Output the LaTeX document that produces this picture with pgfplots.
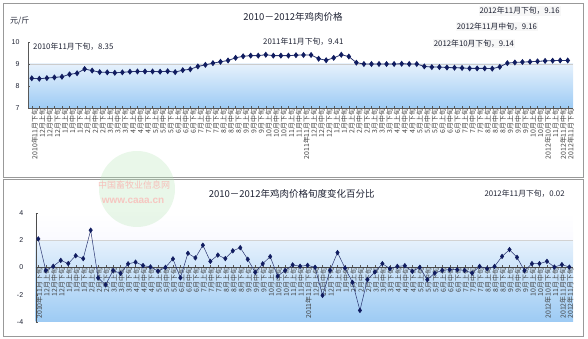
\documentclass[border=0pt]{standalone}
\usepackage{fontspec}
\setmainfont{Liberation Sans}
\newfontfamily\cjk{Noto Sans CJK SC}
\usepackage{pgfplots}
\pgfplotsset{compat=1.18}
\definecolor{navy}{HTML}{101C60}
\definecolor{lnb}{HTML}{2A3570}
\definecolor{txt}{HTML}{1E2233}
\definecolor{bluelo}{HTML}{9DCBF4}
\definecolor{bluehi}{HTML}{E6F1FC}
\pgfplotsset{
  mylabels/.style={xticklabels={2010年11月下旬,12月上旬,12月中旬,12月下旬,1月上旬,1月中旬,1月下旬,2月上旬,2月中旬,2月下旬,3月上旬,3月中旬,3月下旬,4月上旬,4月中旬,4月下旬,5月上旬,5月中旬,5月下旬,6月上旬,6月中旬,6月下旬,7月上旬,7月中旬,7月下旬,8月上旬,8月中旬,8月下旬,9月上旬,9月中旬,9月下旬,10月上旬,10月中旬,10月下旬,11月上旬,11月中旬,2011年11月下旬,12月上旬,12月中旬,12月下旬,1月上旬,1月中旬,2月上旬,2月中旬,2月下旬,3月上旬,3月中旬,3月下旬,4月上旬,4月中旬,4月下旬,5月上旬,5月中旬,5月下旬,6月上旬,6月中旬,6月下旬,7月上旬,7月中旬,7月下旬,8月上旬,8月中旬,8月下旬,9月上旬,9月中旬,9月下旬,10月上旬,10月中旬,2012年10月下旬,11月上旬,2012年11月中旬,2012年11月下旬}},
}
\begin{document}
\begin{tikzpicture}
\begin{scope}[x=1pt,y=1pt]
\useasboundingbox (0,0) rectangle (588,339);
% frames
\draw[gray!80, line width=0.8pt] (3.3,162) rectangle (583.5,336);
\draw[gray!80, line width=0.8pt] (3.3,3) rectangle (583.5,160);
\end{scope}

% ---------------- top chart ----------------
\begin{axis}[at={(28pt,231pt)}, anchor=south west, scale only axis,
  width=545pt, height=66pt, set layers=standard,
  xmin=0.5, xmax=72.7, ymin=7, ymax=10,
  axis lines=left, axis line style={-, gray!70!black},
  ytick={7,8,9,10}, xtick={1,...,72}, mylabels,
  tick align=inside, major tick length=2pt, tick style={gray!70!black},
  /pgf/number format/assume math mode=true,
  yticklabel style={font=\fontsize{7}{8}\selectfont, xshift=-5pt, text=txt},
  xticklabel style={rotate=90, anchor=east, inner sep=0.5pt, yshift=-3pt, font=\cjk\fontsize{6.9}{7}\selectfont, text=black!75},
  clip=false]
\begin{pgfonlayer}{axis background}
\fill[bottom color=bluelo, top color=bluehi] (axis cs:0.5,7) rectangle (axis cs:72.7,9);
\draw[gray!40] (axis cs:0.5,9) -- (axis cs:72.7,9);
\end{pgfonlayer}
\addplot[color=lnb, line width=0.8pt, mark=diamond*, mark size=2.4pt, mark options={fill=navy, draw=navy}] coordinates {
(1,8.35)(2,8.33)(3,8.36)(4,8.39)(5,8.42)(6,8.53)(7,8.58)(8,8.77)(9,8.70)(10,8.63)
(11,8.62)(12,8.60)(13,8.62)(14,8.65)(15,8.66)(16,8.66)(17,8.66)(18,8.65)(19,8.67)(20,8.63)
(21,8.72)(22,8.76)(23,8.89)(24,8.96)(25,9.04)(26,9.10)(27,9.16)(28,9.28)(29,9.35)(30,9.38)
(31,9.38)(32,9.42)(33,9.38)(34,9.38)(35,9.38)(36,9.40)(37,9.41)(38,9.41)(39,9.24)(40,9.17)
(41,9.28)(42,9.42)(43,9.34)(44,9.06)(45,9.00)(46,9.00)(47,9.00)(48,9.00)(49,9.00)(50,9.01)
(51,9.00)(52,9.00)(53,8.89)(54,8.86)(55,8.86)(56,8.84)(57,8.83)(58,8.82)(59,8.80)(60,8.80)
(61,8.80)(62,8.79)(63,8.87)(64,9.04)(65,9.07)(66,9.09)(67,9.10)(68,9.12)(69,9.14)(70,9.15)
(71,9.16)(72,9.16)};
\end{axis}

% ---------------- bottom chart ----------------
\begin{axis}[at={(35.7pt,17pt)}, anchor=south west, scale only axis,
  width=537.4pt, height=109.3pt, set layers=standard,
  xmin=0.65, xmax=72.5, ymin=-4, ymax=4,
  axis x line=middle, axis y line=left, axis line style={-, gray!60!black},
  ytick={-4,-2,0,2,4}, xtick={1,...,72}, mylabels,
  tick align=inside, major tick length=2pt, tick style={gray!70!black},
  /pgf/number format/assume math mode=true,
  yticklabel style={font=\fontsize{7}{8}\selectfont, xshift=-9pt, text=txt},
  xticklabel style={rotate=90, anchor=east, inner sep=0.5pt, yshift=-1pt, font=\cjk\fontsize{6.9}{7}\selectfont, text=black!75},
  clip=false]
\begin{pgfonlayer}{axis background}
\fill[bottom color=blue!2!white, top color=white] (axis cs:0.65,2) rectangle (axis cs:72.5,4);
\fill[bottom color=bluelo, top color=bluehi] (axis cs:0.65,-4) rectangle (axis cs:72.5,2);
\draw[gray!35] (axis cs:0.65,2) -- (axis cs:72.5,2);
\end{pgfonlayer}
\addplot[color=lnb, line width=0.5pt, mark=diamond*, mark size=2.3pt, mark options={fill=navy, draw=navy}] coordinates {
(1,2.08)(2,-0.23)(3,0.08)(4,0.51)(5,0.28)(6,0.85)(7,0.64)(8,2.72)(9,-0.77)(10,-1.28)
(11,-0.23)(12,-0.44)(13,0.26)(14,0.38)(15,0.13)(16,0.03)(17,-0.28)(18,0.00)(19,0.62)(20,-0.77)
(21,1.03)(22,0.69)(23,1.62)(24,0.44)(25,0.90)(26,0.64)(27,1.21)(28,1.44)(29,0.59)(30,-0.36)
(31,0.26)(32,0.79)(33,-0.64)(34,-0.23)(35,0.18)(36,0.08)(37,0.15)(38,0.00)(39,-2.05)(40,-0.22)
(41,1.08)(42,-0.05)(43,-1.10)(44,-3.15)(45,-0.90)(46,-0.34)(47,0.27)(48,-0.10)(49,0.07)(50,0.12)
(51,-0.29)(52,0.00)(53,-0.90)(54,-0.42)(55,-0.22)(56,-0.17)(57,-0.17)(58,-0.22)(59,-0.42)(60,0.07)
(61,-0.10)(62,0.07)(63,0.80)(64,1.30)(65,0.73)(66,-0.24)(67,0.27)(68,0.27)(69,0.44)(70,0.02)
(71,0.20)(72,0.02)};
\end{axis}

\begin{scope}[x=1pt,y=1pt]
% watermark
\fill[green!45!gray!40, opacity=0.3] (137,150) circle (38);
\node[text=red!40, opacity=0.6, font=\cjk\fontsize{9}{10}\selectfont] at (134,154) {中国畜牧业信息网};
\node[text=red!35, opacity=0.6, font=\bfseries\fontsize{10}{11}\selectfont] at (133,138) {www.caaa.cn};
% top texts
\node[anchor=west, inner sep=0, font=\cjk\fontsize{8}{9}\selectfont, text=txt] at (10,318.5) {元/斤};
\node[inner sep=0, font=\cjk\fontsize{9.5}{10}\selectfont, text=txt] at (293,322) {2010－2012年鸡肉价格};
\node[anchor=west, inner sep=1pt, font=\cjk\fontsize{7.8}{9}\selectfont, text=txt] at (32,292.3) {2010年11月下旬，8.35};
\node[anchor=west, inner sep=1pt, font=\cjk\fontsize{7.8}{9}\selectfont, text=txt] at (262,297.3) {2011年11月下旬，9.41};
\node[anchor=west, inner sep=1pt, fill=gray!6, font=\cjk\fontsize{7.8}{9}\selectfont, text=txt] at (432.7,295.7) {2012年10月下旬，9.14};
\node[anchor=west, inner sep=1pt, fill=gray!6, font=\cjk\fontsize{7.8}{9}\selectfont, text=txt] at (455.7,312.3) {2012年11月中旬，9.16};
\node[anchor=west, inner sep=1pt, fill=gray!6, font=\cjk\fontsize{7.8}{9}\selectfont, text=txt] at (478.3,328) {2012年11月下旬，9.16};
% bottom texts
\node[inner sep=0, font=\cjk\fontsize{9.5}{10}\selectfont, text=txt] at (291.7,145) {2010－2012年鸡肉价格旬度变化百分比};
\node[anchor=west, inner sep=1pt, font=\cjk\fontsize{7.8}{9}\selectfont, text=txt] at (483.3,145.7) {2012年11月下旬，0.02};
\end{scope}
\end{tikzpicture}
\end{document}
